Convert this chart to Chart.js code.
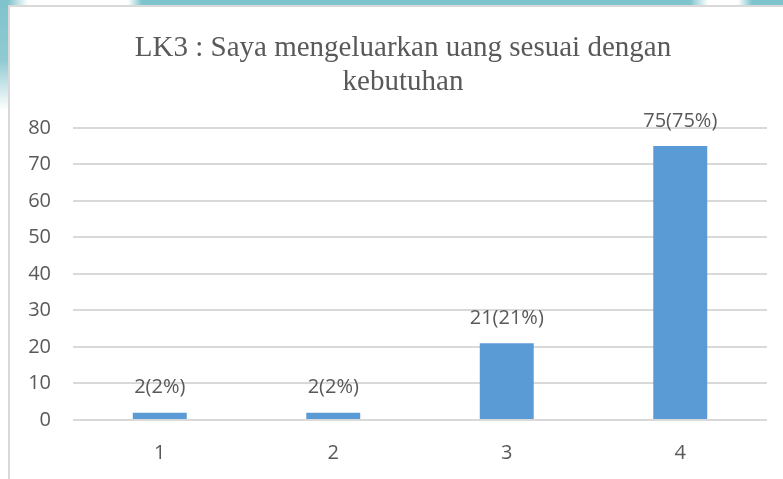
<!DOCTYPE html>
<html>
<head>
<meta charset="utf-8">
<script src="https://cdn.jsdelivr.net/npm/chart.js@4.4.0/dist/chart.umd.min.js"></script>
<style>
  html, body { margin: 0; padding: 0; background: #fff; overflow: hidden; width: 783px; height: 479px; }
  #topband {
    position: absolute; left: 0; top: 0; width: 783px; height: 5px;
    background: linear-gradient(to right, #7fc3cc 0px, #7fc3cc 8px, #fff 28px, #fff 128px, #7fc3cc 142px,
      #7fc3cc 690px, #fff 708px, #fff 738px, #7fc3cc 752px, #7fc3cc 783px);
  }
  #leftband {
    position: absolute; left: 0; top: 0; width: 8px; height: 110px;
    background: linear-gradient(to bottom, #7fc3cc 0px, #8fcad2 60px, #fff 110px);
  }
  #frame {
    position: absolute; left: 8px; top: 5px; width: 790px; height: 480px;
    border-left: 2px solid #d9d9d9; border-top: 2px solid #d9d9d9; background: #fff;
  }
  #wrap { position: absolute; left: 0; top: 0; width: 786px; height: 472px; }
</style>
</head>
<body>
<div id="topband"></div>
<div id="leftband"></div>
<div id="frame">
  <div id="wrap"><canvas id="chart"></canvas></div>
</div>
<script>
// data
const categories = ['1', '2', '3', '4'];
const counts = [2, 2, 21, 75];
const percents = [2, 2, 21, 75];
const yTicks = [0, 10, 20, 30, 40, 50, 60, 70, 80];
const titleLines = ['LK3 : Saya mengeluarkan uang sesuai dengan', 'kebutuhan'];

const textColor = '#595959';
const barColor = '#5b9bd5';
const labelFont = { family: '"Open Sans", sans-serif', size: 20 };

// draw "n(p%)" over each bar
const barLabels = {
  id: 'barLabels',
  afterDatasetsDraw(chart) {
    const ctx = chart.ctx;
    const meta = chart.getDatasetMeta(0);
    ctx.save();
    ctx.font = '20px "Open Sans", sans-serif';
    ctx.fillStyle = textColor;
    ctx.textAlign = 'center';
    ctx.textBaseline = 'middle';
    meta.data.forEach((bar, i) => {
      ctx.fillText(counts[i] + '(' + percents[i] + '%)', bar.x, bar.y - 25);
    });
    ctx.restore();
  }
};

new Chart(document.getElementById('chart'), {
  type: 'bar',
  data: {
    labels: categories,
    datasets: [{
      data: counts,
      backgroundColor: barColor,
      borderWidth: 0,
      barPercentage: 0.622,
      categoryPercentage: 0.5
    }]
  },
  options: {
    responsive: true,
    maintainAspectRatio: false,
    animation: false,
    layout: { padding: 0 },
    plugins: {
      legend: { display: false },
      tooltip: { enabled: false },
      title: {
        display: true,
        text: titleLines,
        color: textColor,
        font: { family: '"Liberation Serif", "Times New Roman", serif', size: 29, weight: 'normal', lineHeight: 1.17 },
        padding: { top: 24, bottom: 29 }
      }
    },
    scales: {
      x: {
        grid: { display: false, drawTicks: false },
        border: { display: false },
        ticks: { color: textColor, font: labelFont, padding: 21 },
        afterFit(axis) { axis.height = 59; }
      },
      y: {
        min: 0,
        max: 80,
        afterBuildTicks(axis) { axis.ticks = yTicks.map(v => ({ value: v })); },
        grid: { color: '#d9d9d9', lineWidth: 2, drawTicks: false },
        border: { display: false },
        ticks: { color: textColor, font: labelFont, padding: 22 },
        afterFit(axis) { axis.width = 63; }
      },
      // empty right axis, only keeps space so the title stays centred on the box
      yRight: {
        position: 'right',
        min: 0,
        max: 80,
        grid: { display: false, drawTicks: false },
        border: { display: false },
        ticks: { display: false },
        afterFit(axis) { axis.width = 29; }
      }
    }
  },
  plugins: [barLabels]
});
</script>
</body>
</html>
